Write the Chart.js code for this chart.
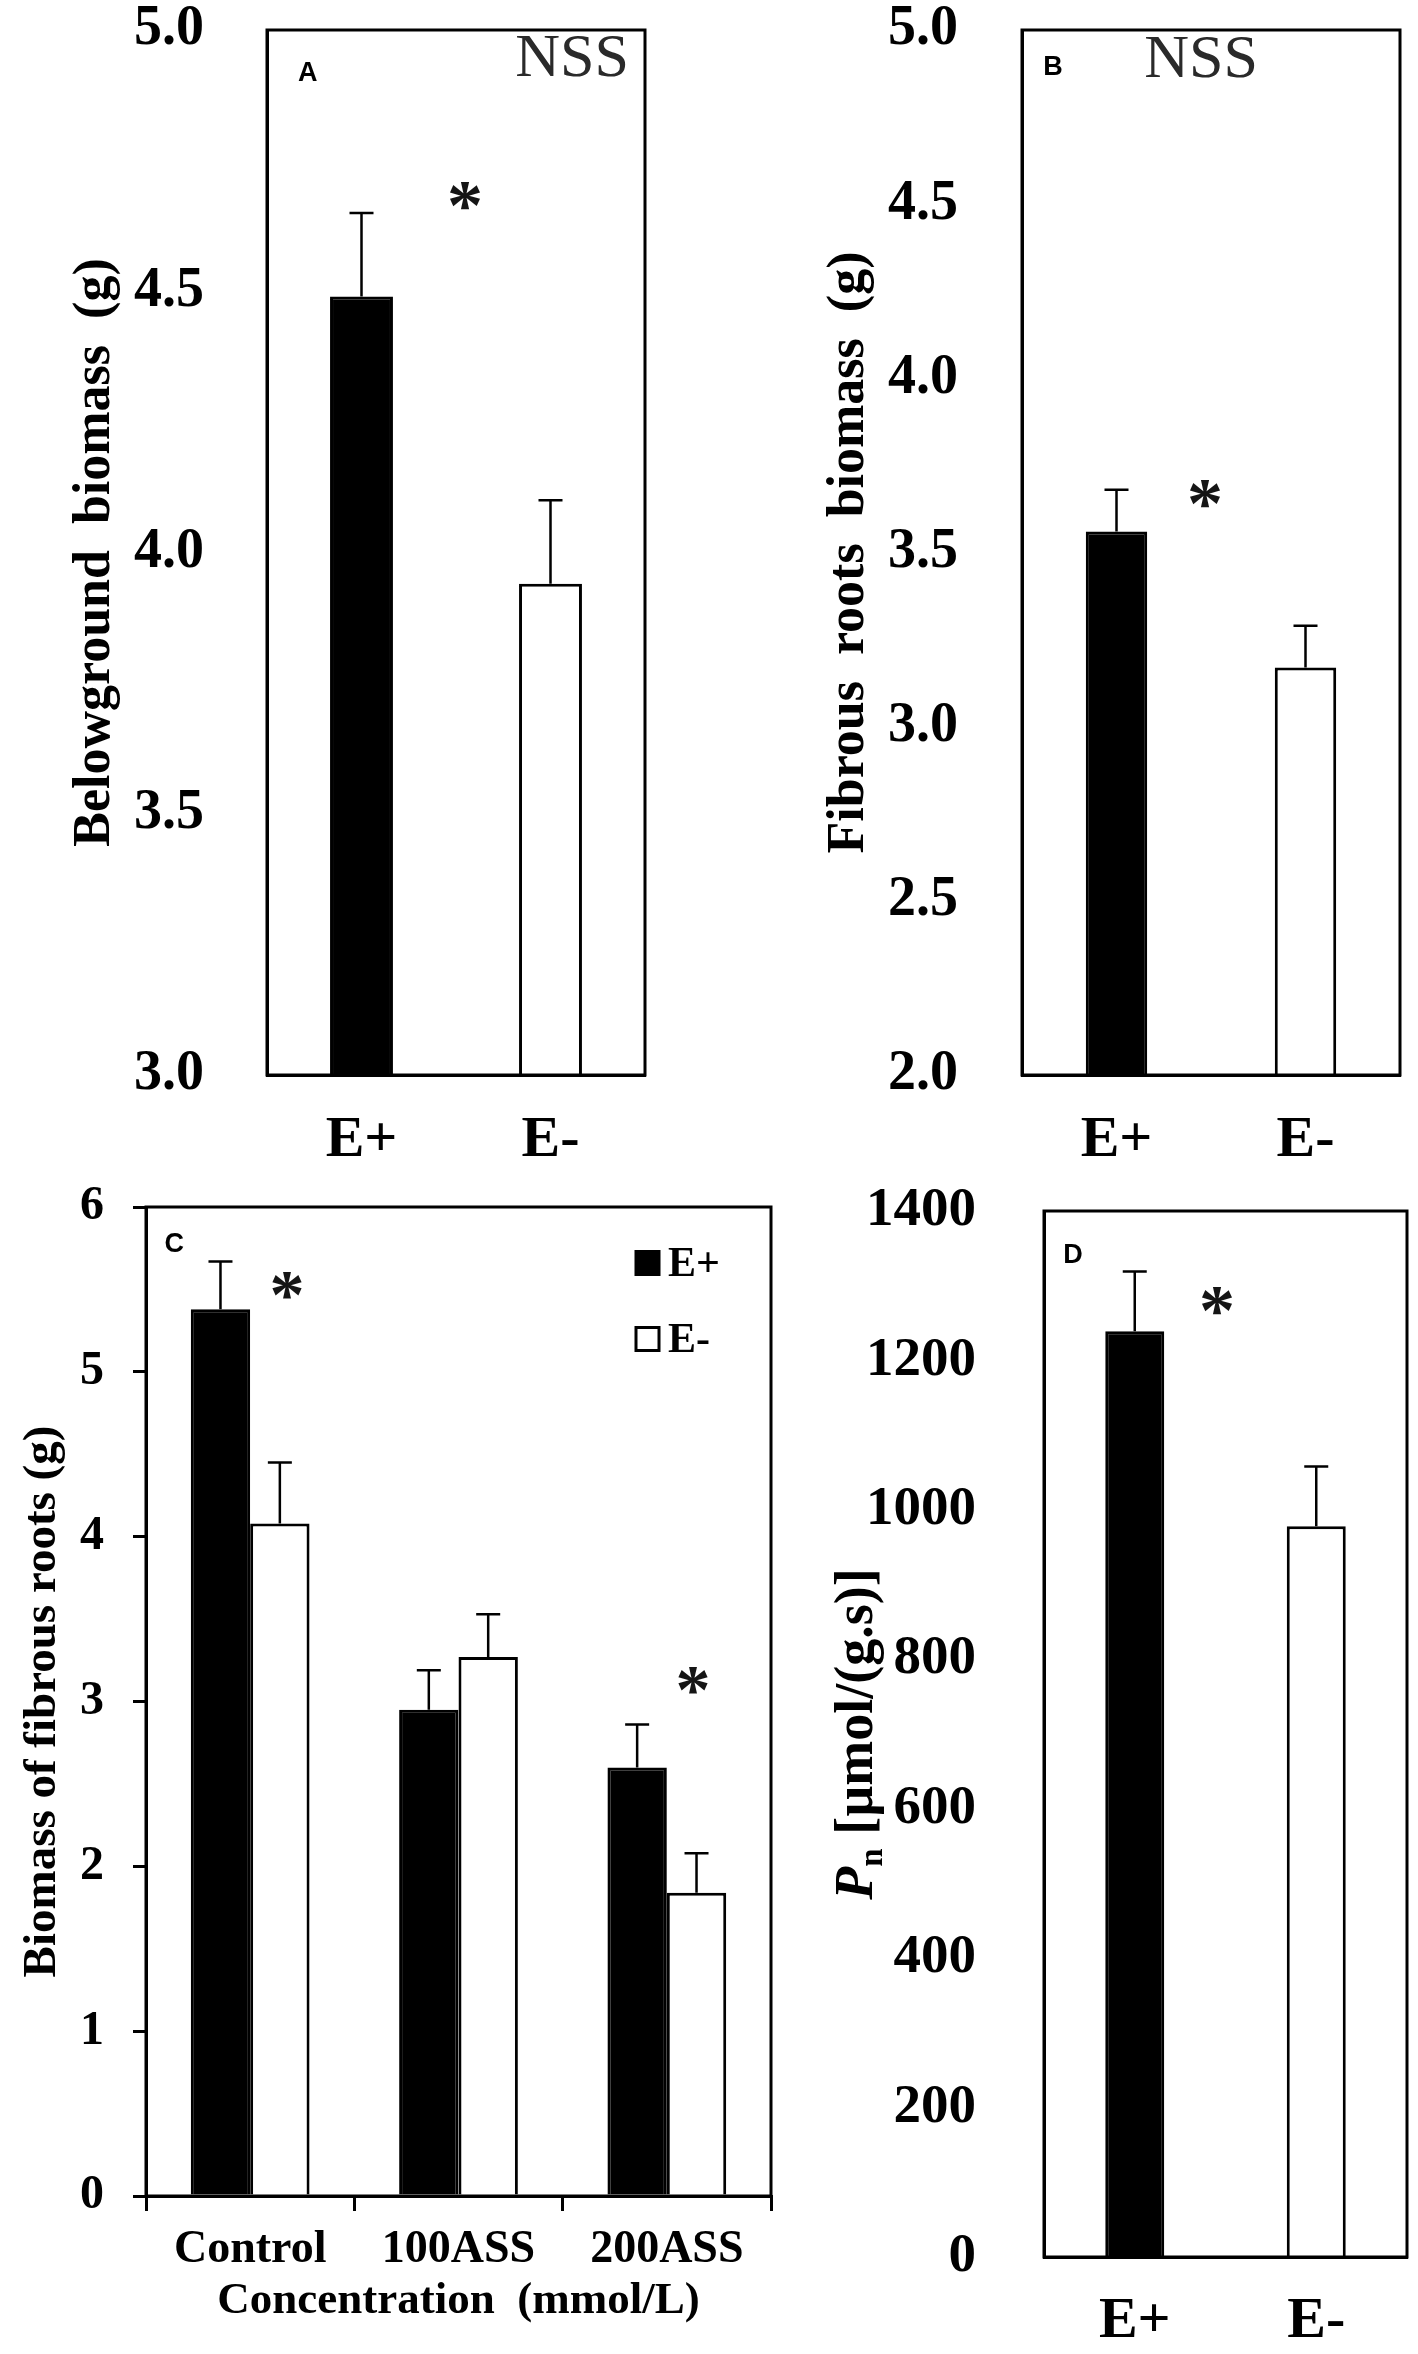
<!DOCTYPE html>
<html>
<head>
<meta charset="utf-8">
<script src="https://cdn.jsdelivr.net/npm/chart.js@4.4.1/dist/chart.umd.min.js"></script>
<style>
html,body{margin:0;padding:0;background:#fff;width:1418px;height:2354px;overflow:hidden}
canvas{position:absolute}
</style>
</head>
<body>
<canvas id="cA" width="709" height="1177" style="left:0;top:0"></canvas>
<canvas id="cB" width="709" height="1177" style="left:709px;top:0"></canvas>
<canvas id="cC" width="790" height="1177" style="left:0;top:1177px"></canvas>
<canvas id="cD" width="628" height="1177" style="left:790px;top:1177px"></canvas>
<script>
// ---------- data ----------
const groupLabels = ['E+', 'E-'];
const belowgroundValues = [4.49, 3.94];
const belowgroundErrors = [0.16, 0.16];
const fibrousValues = [3.56, 3.17];
const fibrousErrors = [0.12, 0.12];
const concentrationLabels = ['Control', '100ASS', '200ASS'];
const seriesNames = ['E+', 'E-'];
const fibrousEplus = [5.38, 2.95, 2.60];
const fibrousEplusErr = [0.29, 0.24, 0.26];
const fibrousEminus = [4.08, 3.27, 1.84];
const fibrousEminusErr = [0.37, 0.26, 0.24];
const pnValues = [1239, 978];
const pnErrors = [80, 80];
const ticksA = [3.0, 3.5, 4.0, 4.5, 5.0];
const ticksB = [2.0, 2.5, 3.0, 3.5, 4.0, 4.5, 5.0];
const ticksC = [0, 1, 2, 3, 4, 5, 6];
const ticksD = [0, 200, 400, 600, 800, 1000, 1200, 1400];

// ---------- styling helpers ----------
const serif = '"Liberation Serif","Times New Roman",Times,serif';
const sans = '"Liberation Sans",Arial,Helvetica,sans-serif';

const errorBarPlugin = {
  id: 'errorBars',
  afterDatasetsDraw(chart, args, o) {
    const ctx = chart.ctx, ys = chart.scales.y;
    chart.data.datasets.forEach((ds, i) => {
      if (!ds.errors) return;
      const meta = chart.getDatasetMeta(i);
      meta.data.forEach((bar, j) => {
        const top = ys.getPixelForValue(ds.data[j] + ds.errors[j]);
        ctx.save();
        ctx.strokeStyle = '#000';
        ctx.lineWidth = o.lineWidth || 2.5;
        ctx.beginPath();
        ctx.moveTo(bar.x, bar.y);
        ctx.lineTo(bar.x, top);
        ctx.moveTo(bar.x - (o.cap || 24) / 2, top);
        ctx.lineTo(bar.x + (o.cap || 24) / 2, top);
        ctx.stroke();
        ctx.restore();
      });
    });
  }
};

const decorPlugin = {
  id: 'decor',
  afterDraw(chart, args, o) {
    const ctx = chart.ctx, ca = chart.chartArea;
    const w = ca.right - ca.left, h = ca.bottom - ca.top;
    ctx.save();
    if (o.frame) {
      ctx.lineWidth = 3;
      ctx.strokeStyle = '#000';
      ctx.strokeRect(ca.left, ca.top, w, h);
    }
    (o.texts || []).forEach(t => {
      ctx.font = t.font;
      ctx.fillStyle = t.color || '#000';
      ctx.textAlign = 'center';
      ctx.textBaseline = 'middle';
      ctx.fillText(t.text, ca.left + t.fx * w, ca.top + t.fy * h);
    });
    (o.stars || []).forEach(m => {
      const x = chart.scales.x.getPixelForValue(m.x);
      const y = chart.scales.y.getPixelForValue(m.y);
      ctx.font = `bold ${m.size}px ${serif}`;
      ctx.fillStyle = '#151515';
      ctx.textAlign = 'center';
      ctx.textBaseline = 'alphabetic';
      ctx.fillText('*', x, y + m.size * 0.52);
    });
    if (o.legend) {
      const L = o.legend;
      chart.data.datasets.forEach((ds, i) => {
        const cy = ca.top + L.dy + i * L.gap;
        const bx = ca.left + L.dx;
        ctx.fillStyle = ds.backgroundColor;
        ctx.fillRect(bx, cy - L.box / 2, L.box, L.box);
        ctx.lineWidth = 3;
        ctx.strokeStyle = '#000';
        ctx.strokeRect(bx, cy - L.box / 2, L.box, L.box);
        ctx.fillStyle = '#000';
        ctx.font = L.font;
        ctx.textAlign = 'left';
        ctx.textBaseline = 'middle';
        ctx.fillText(ds.label, bx + L.box + 9, cy + 2);
      });
    }
    if (o.richTitle) {
      const R = o.richTitle;
      const cy = (ca.top + ca.bottom) / 2;
      ctx.translate(R.x, cy);
      ctx.rotate(-Math.PI / 2);
      const fMain = `bold ${R.size}px ${serif}`;
      const fP = `italic bold ${R.size}px ${serif}`;
      const fSub = `bold ${Math.round(R.size * 0.62)}px ${serif}`;
      ctx.font = fP; const wP = ctx.measureText('P').width;
      ctx.font = fSub; const wN = ctx.measureText('n').width;
      ctx.font = fMain; const wR = ctx.measureText(' [\u00b5mol/(g.s)]').width;
      let x = -(wP + wN + wR) / 2;
      ctx.textAlign = 'left';
      ctx.textBaseline = 'middle';
      ctx.fillStyle = '#000';
      ctx.font = fP; ctx.fillText('P', x, 0); x += wP;
      ctx.font = fSub; ctx.fillText('n', x, R.size * 0.28); x += wN;
      ctx.font = fMain; ctx.fillText(' [\u00b5mol/(g.s)]', x, 0);
    }
    ctx.restore();
  }
};

function yScale(ticks, fmt, fontSize, pad, width, title, titleSize, titlePad, outward) {
  return {
    min: ticks[0], max: ticks[ticks.length - 1],
    afterBuildTicks: s => { s.ticks = ticks.map(v => ({ value: v })); },
    afterFit: s => { s.width = width; s.paddingTop = 0; s.paddingBottom = 0; },
    ticks: {
      autoSkip: false, padding: pad, color: '#000',
      font: { family: serif, weight: 'bold', size: fontSize, lineHeight: 1 },
      callback: v => fmt(v)
    },
    grid: outward
      ? { display: true, drawOnChartArea: false, drawTicks: true, tickLength: 13, color: '#000', lineWidth: 3 }
      : { display: false, drawTicks: false },
    border: { display: true, color: '#000', width: 3 },
    title: title ? {
      display: true, text: title, color: '#000',
      font: { family: serif, weight: 'bold', size: titleSize, lineHeight: 1 },
      padding: { top: titlePad, bottom: 0 }
    } : { display: false }
  };
}

function xScale(height, fontSize, pad, outward, title) {
  return {
    afterFit: s => { s.height = height; s.paddingLeft = 0; s.paddingRight = 0; },
    ticks: {
      padding: pad, color: '#000', autoSkip: false, maxRotation: 0,
      font: { family: serif, weight: 'bold', size: fontSize }
    },
    grid: outward
      ? { display: true, offset: true, drawOnChartArea: false, drawTicks: true, tickLength: 15, color: '#000', lineWidth: 3 }
      : { display: false, drawTicks: false },
    border: { display: true, color: '#000', width: 3 },
    title: title ? {
      display: true, text: title, color: '#000',
      font: { family: serif, weight: 'bold', size: 45, lineHeight: 1 },
      padding: { top: 0, bottom: 30 }
    } : { display: false }
  };
}

const common = {
  responsive: false, animation: false, devicePixelRatio: 1,
  events: []
};

// ---------- Panel A ----------
new Chart(document.getElementById('cA'), {
  type: 'bar',
  data: {
    labels: groupLabels,
    datasets: [{
      data: belowgroundValues, errors: belowgroundErrors,
      backgroundColor: ['#000', '#fff'], borderColor: '#000', borderWidth: 3,
      barPercentage: 0.333, categoryPercentage: 1
    }]
  },
  options: Object.assign({}, common, {
    layout: { padding: { top: 30, right: 64, left: 0, bottom: 0 } },
    scales: {
      x: xScale(102, 58, 31, false),
      y: yScale(ticksA, v => v.toFixed(1), 56, 63, 267, 'Belowground  biomass  (g)', 52, 70, false)
    },
    plugins: {
      legend: { display: false }, tooltip: { enabled: false },
      errorBars: { cap: 24, lineWidth: 2.5 },
      decor: {
        frame: true,
        texts: [
          { text: 'A', fx: 0.108, fy: 0.042, font: `bold 27px ${sans}` },
          { text: 'NSS', fx: 0.807, fy: 0.028, font: `62px ${serif}`, color: '#2a2a2a' }
        ],
        stars: [{ x: 0.548, y: 4.69, size: 72 }]
      }
    }
  }),
  plugins: [errorBarPlugin, decorPlugin]
});

// ---------- Panel B ----------
new Chart(document.getElementById('cB'), {
  type: 'bar',
  data: {
    labels: groupLabels,
    datasets: [{
      data: fibrousValues, errors: fibrousErrors,
      backgroundColor: ['#000', '#fff'], borderColor: '#000', borderWidth: 3,
      barPercentage: 0.325, categoryPercentage: 1
    }]
  },
  options: Object.assign({}, common, {
    layout: { padding: { top: 30, right: 18, left: 0, bottom: 0 } },
    scales: {
      x: xScale(102, 58, 31, false),
      y: yScale(ticksB, v => v.toFixed(1), 56, 64, 313, 'Fibrous  roots  biomass  (g)', 52, 115, false)
    },
    plugins: {
      legend: { display: false }, tooltip: { enabled: false },
      errorBars: { cap: 24, lineWidth: 2.5 },
      decor: {
        frame: true,
        texts: [
          { text: 'B', fx: 0.082, fy: 0.036, font: `bold 27px ${sans}` },
          { text: 'NSS', fx: 0.474, fy: 0.029, font: `62px ${serif}`, color: '#2a2a2a' }
        ],
        stars: [{ x: 0.468, y: 3.682, size: 72 }]
      }
    }
  }),
  plugins: [errorBarPlugin, decorPlugin]
});

// ---------- Panel C ----------
new Chart(document.getElementById('cC'), {
  type: 'bar',
  data: {
    labels: concentrationLabels,
    datasets: [
      { label: seriesNames[0], data: fibrousEplus, errors: fibrousEplusErr,
        backgroundColor: '#000', borderColor: '#000', borderWidth: 3,
        barPercentage: 1, categoryPercentage: 0.57 },
      { label: seriesNames[1], data: fibrousEminus, errors: fibrousEminusErr,
        backgroundColor: '#fff', borderColor: '#000', borderWidth: 3,
        barPercentage: 1, categoryPercentage: 0.57 }
    ]
  },
  options: Object.assign({}, common, {
    layout: { padding: { top: 30, right: 19, left: 0, bottom: 0 } },
    scales: {
      x: xScale(158, 46, 12, true, 'Concentration  (mmol/L)'),
      y: yScale(ticksC, v => String(v), 48, 29, 146, 'Biomass of fibrous roots (g)', 47, 19, true)
    },
    plugins: {
      legend: { display: false }, tooltip: { enabled: false },
      errorBars: { cap: 24, lineWidth: 2.5 },
      decor: {
        frame: true,
        texts: [{ text: 'C', fx: 0.045, fy: 0.038, font: `bold 27px ${sans}` }],
        stars: [{ x: 0.177, y: 5.55, size: 70 }, { x: 2.126, y: 3.154, size: 70 }],
        legend: { dx: 490, dy: 56, gap: 76, box: 23, font: `bold 42px ${serif}` }
      }
    }
  }),
  plugins: [errorBarPlugin, decorPlugin]
});

// ---------- Panel D ----------
new Chart(document.getElementById('cD'), {
  type: 'bar',
  data: {
    labels: groupLabels,
    datasets: [{
      data: pnValues, errors: pnErrors,
      backgroundColor: ['#000', '#fff'], borderColor: '#000', borderWidth: 3,
      barPercentage: 0.325, categoryPercentage: 1
    }]
  },
  options: Object.assign({}, common, {
    layout: { padding: { top: 34, right: 11, left: 0, bottom: 0 } },
    scales: {
      x: xScale(97, 58, 30, false),
      y: yScale(ticksD, v => String(v), 55, 68, 254, null, 0, 0, false)
    },
    plugins: {
      legend: { display: false }, tooltip: { enabled: false },
      errorBars: { cap: 24, lineWidth: 2.5 },
      decor: {
        frame: true,
        texts: [{ text: 'D', fx: 0.080, fy: 0.043, font: `bold 27px ${sans}` }],
        stars: [{ x: 0.453, y: 1286, size: 72 }],
        richTitle: { x: 68, size: 54 }
      }
    }
  }),
  plugins: [errorBarPlugin, decorPlugin]
});
</script>
</body>
</html>
